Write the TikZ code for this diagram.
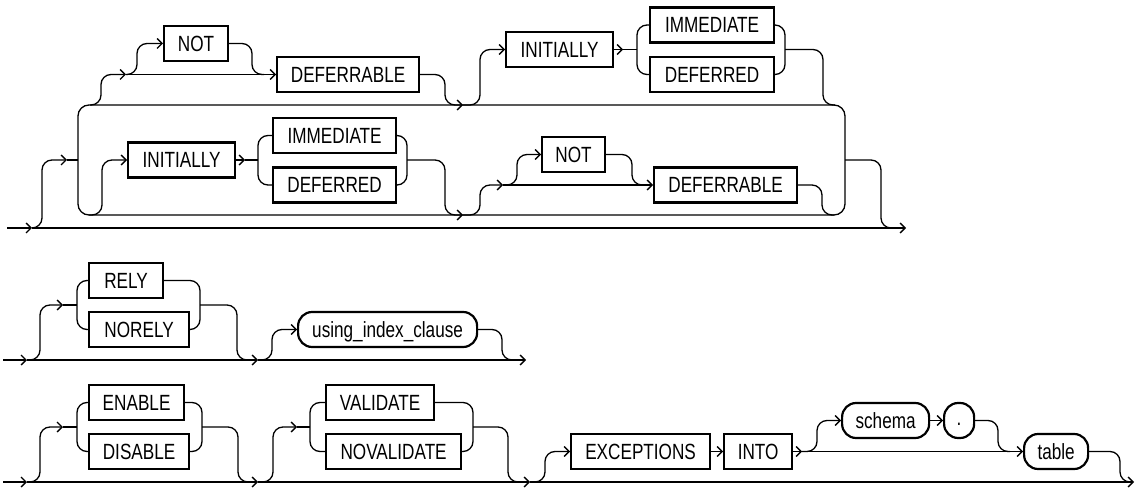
\documentclass[tikz,border=0pt]{standalone}
\usepackage{fontspec}
\newfontfamily\rrfont{Liberation Sans}[FakeStretch=0.78]
\usetikzlibrary{arrows.meta}
\tikzset{
  ln/.style={line width=1.3pt},
  rc/.style={rounded corners=10pt},
  arr/.style={-{Straight Barb[length=5pt,width=10pt]}},
  kw/.style={draw, line width=2.2pt, rectangle, minimum height=35pt, inner sep=0pt,
    text height=15.5pt, text depth=0pt,
    anchor=west, font=\rrfont\fontsize{22}{24}\selectfont},
  idb/.style={kw, rounded corners=14pt},
}
\begin{document}
\begin{tikzpicture}[x=1pt,y=-1pt]
\useasboundingbox (0,0) rectangle (1138,489);

% ================= Section 1 =================
\coordinate (s1) at (7,228);
\coordinate (a1) at (32,228);
\coordinate (e1) at (906,228);
\coordinate (in1) at (67,160);
\coordinate (out1) at (845,160);
\draw[ln,arr] (s1) -- (a1);
\draw[ln,arr] (a1) -- (e1);
\draw[ln,rc,arr] (a1) -| (42,160) -- (in1);
\draw[ln] (in1) -- (78,160);
\draw[ln,rounded corners=11pt] (78,105) rectangle (845,215);
\draw[ln,rc] (out1) -| (881,228) -- (893,228);

% top row
\node[kw,minimum width=64pt] (NOT1) at (163,43.5) {NOT};
\node[kw,minimum width=142pt] (DEF1) at (276,74.5) {DEFERRABLE};
\node[kw,minimum width=107pt] (INIT1) at (505,49.5) {INITIALLY};
\node[kw,minimum width=124pt] (IMM1) at (649,25) {IMMEDIATE};
\node[kw,minimum width=124pt] (DFD1) at (649,74.5) {DEFERRED};
\coordinate (t1a) at (126,74.5);
\coordinate (t1b) at (463,105);
\coordinate (c1) at (623,49.5);
\draw[ln,rc,arr] (90,105) -| (101,74.5) -- (t1a);
\draw[ln,arr] (t1a) -- (DEF1.west);
\draw[ln,rc,arr] (t1a) -| (137,43.5) -- (NOT1.west);
\draw[ln,rc] (NOT1.east) -| (252,74.5) -- (264,74.5);
\draw[ln,rc,arr] (DEF1.east) -| (445,105) -- (t1b);
\draw[ln,rc,arr] (t1b) -| (480,49.5) -- (INIT1.west);
\draw[ln,arr] (INIT1.east) -- (c1);
\draw[ln] (c1) -- (637,49.5);
\draw[ln,rc] (IMM1.west) -| (637,74.5) -- (DFD1.west);
\draw[ln,rc] (IMM1.east) -| (785,74.5) -- (DFD1.east);
\draw[ln,rc] (785,49.5) -| (823,105) -- (835,105);

% bottom row
\node[kw,minimum width=107pt] (INIT2) at (127,160) {INITIALLY};
\node[kw,minimum width=123pt] (IMM2) at (272,135.5) {IMMEDIATE};
\node[kw,minimum width=123pt] (DFD2) at (272,185) {DEFERRED};
\node[kw,minimum width=63pt] (NOT2) at (541,154.5) {NOT};
\node[kw,minimum width=143pt] (DEF2) at (653,185) {DEFERRABLE};
\coordinate (c2) at (245,160);
\coordinate (b1b) at (463,215);
\coordinate (b1c) at (503,185);
\draw[ln,rc,arr] (89,215) -| (102,160) -- (INIT2.west);
\draw[ln,arr] (INIT2.east) -- (c2);
\draw[ln] (c2) -- (258,160);
\draw[ln,rc] (IMM2.west) -| (258,185) -- (DFD2.west);
\draw[ln,rc] (IMM2.east) -| (407,185) -- (DFD2.east);
\draw[ln,rc,arr] (407,160) -| (445,215) -- (b1b);
\draw[ln,rc,arr] (b1b) -| (480,185) -- (b1c);
\draw[ln,arr] (b1c) -- (DEF2.west);
\draw[ln,rc,arr] (b1c) -| (517,154.5) -- (NOT2.west);
\draw[ln,rc] (NOT2.east) -| (632,185) -- (642,185);
\draw[ln,rc] (DEF2.east) -| (822,215) -- (834,215);

% ================= Section 2 =================
\coordinate (s2) at (3,360);
\coordinate (a2) at (27,360);
\coordinate (a2b) at (258,360);
\coordinate (e2) at (526,360);
\coordinate (in2) at (63,305);
\draw[ln,arr] (s2) -- (a2);
\draw[ln,arr] (a2) -- (a2b);
\draw[ln,arr] (a2b) -- (e2);
\draw[ln,rc,arr] (a2) -| (40,305) -- (in2);
\draw[ln] (in2) -- (77,305);
\node[kw,minimum width=74pt] (RELY) at (88,280.5) {RELY};
\node[kw,minimum width=100pt] (NORELY) at (88,329.5) {NORELY};
\draw[ln,rc] (RELY.west) -| (77,329.5) -- (NORELY.west);
\draw[ln,rc] (RELY.east) -| (200,329.5) -- (NORELY.east);
\draw[ln,rc] (200,305) -| (237,360) -- (249,360);
\node[idb,minimum width=179pt] (USING) at (297,329.5) {using\_index\_clause};
\draw[ln,rc,arr] (a2b) -| (272,329.5) -- (USING.west);
\draw[ln,rc] (USING.east) -| (502,360) -- (513,360);

% ================= Section 3 =================
\coordinate (s3) at (3,482);
\coordinate (a3) at (27,482);
\coordinate (a3b) at (258,482);
\coordinate (a3c) at (530,482);
\coordinate (e3) at (1134,482);
\coordinate (in3) at (63,427);
\coordinate (in3b) at (297,427);
\coordinate (i3) at (802,451.5);
\draw[ln,arr] (s3) -- (a3);
\draw[ln,arr] (a3) -- (a3b);
\draw[ln,arr] (a3b) -- (a3c);
\draw[ln,arr] (a3c) -- (e3);
\draw[ln,rc,arr] (a3) -| (40,427) -- (in3);
\draw[ln] (in3) -- (77,427);
\node[kw,minimum width=95pt] (ENABLE) at (88,402.5) {ENABLE};
\node[kw,minimum width=100pt] (DISABLE) at (88,451.5) {DISABLE};
\draw[ln,rc] (ENABLE.west) -| (77,451.5) -- (DISABLE.west);
\draw[ln,rc] (ENABLE.east) -| (202,451.5) -- (DISABLE.east);
\draw[ln,rc] (202,427) -| (238,482) -- (250,482);
\draw[ln,rc,arr] (a3b) -| (273,427) -- (in3b);
\draw[ln] (in3b) -- (310,427);
\node[kw,minimum width=108pt] (VAL) at (325,402.5) {VALIDATE};
\node[kw,minimum width=135pt] (NOVAL) at (325,451.5) {NOVALIDATE};
\draw[ln,rc] (VAL.west) -| (310,451.5) -- (NOVAL.west);
\draw[ln,rc] (VAL.east) -| (473,451.5) -- (NOVAL.east);
\draw[ln,rc] (473,427) -| (508,482) -- (520,482);
\node[kw,minimum width=139pt] (EXC) at (570,451.5) {EXCEPTIONS};
\node[kw,minimum width=68pt] (INTO) at (723,451.5) {INTO};
\node[idb,minimum width=87pt] (SCHEMA) at (841,420.5) {schema};
\node[idb,minimum width=30pt,text height=9pt] (DOT) at (943,420.5) {.};
\node[idb,minimum width=64pt] (TABLE) at (1023,451.5) {table};
\draw[ln,rc,arr] (a3c) -| (545,451.5) -- (EXC.west);
\draw[ln,arr] (EXC.east) -- (INTO.west);
\draw[ln,arr] (INTO.east) -- (i3);
\draw[ln,arr] (i3) -- (TABLE.west);
\draw[ln,rc,arr] (i3) -| (817,420.5) -- (SCHEMA.west);
\draw[ln,arr] (SCHEMA.east) -- (DOT.west);
\draw[ln,rc] (DOT.east) -| (998,451.5) -- (1010,451.5);
\draw[ln,rc] (TABLE.east) -| (1120,482) -- (1130,482);
\end{tikzpicture}
\end{document}
